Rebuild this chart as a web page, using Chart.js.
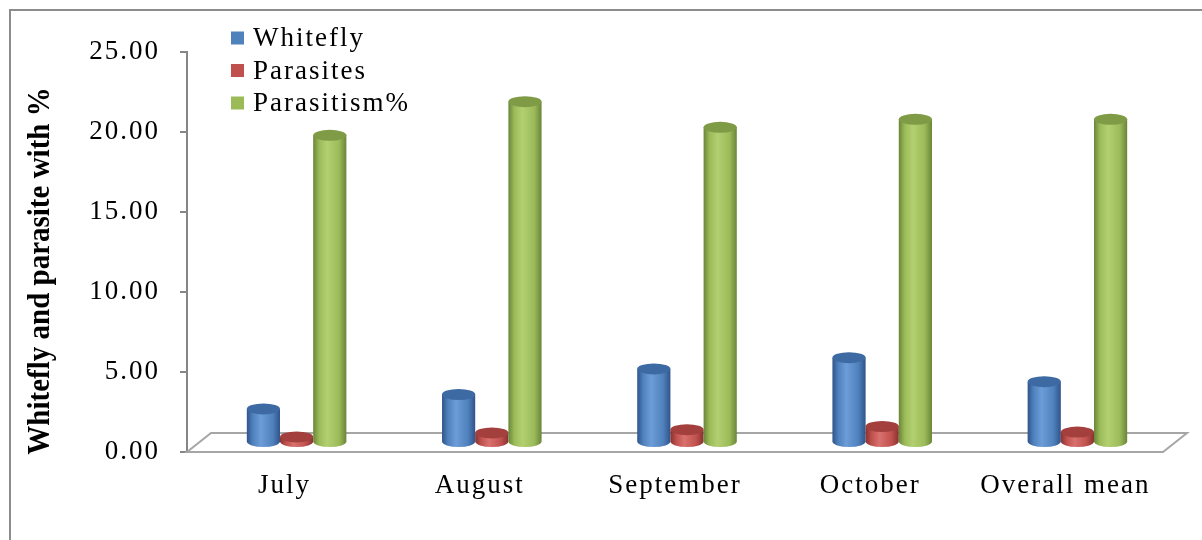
<!DOCTYPE html>
<html>
<head>
<meta charset="utf-8">
<script src="https://cdn.jsdelivr.net/npm/chart.js@4.4.1/dist/chart.umd.min.js"></script>
<style>
  html, body { margin: 0; padding: 0; background: #fff; }
  canvas { display: block; background: #fff; }
</style>
</head>
<body>
<canvas id="chart" width="1202" height="540"></canvas>
<script>
const months = ['July', 'August', 'September', 'October', 'Overall mean'];
const whitefly = [2.1, 3.0, 4.6, 5.3, 3.8];
const parasites = [0.35, 0.6, 0.8, 1.0, 0.65];
const parasitism = [19.2, 21.3, 19.7, 20.2, 20.2];
const seriesNames = ['Whitefly', 'Parasites', 'Parasitism%'];
const yTicks = [0, 5, 10, 15, 20, 25];
const axisTitle = 'Whitefly and parasite with %';

const serif = "'Liberation Serif', 'Times New Roman', serif";
const shades = [
  { base: '#4F81BD', dark: '#30548a', light: '#6c9dd8', top: '#3d6aa2' },
  { base: '#C0504D', dark: '#863230', light: '#d8716e', top: '#a3403d' },
  { base: '#9BBB59', dark: '#6a8538', light: '#b2d070', top: '#7f9b46' }
];
// 3D floor depth
const DX = 24, DY = 19;

function cylinder(ctx, cx, top, bottom, rx, ry, c) {
  const g = ctx.createLinearGradient(cx - rx, 0, cx + rx, 0);
  g.addColorStop(0, c.dark);
  g.addColorStop(0.18, c.base);
  g.addColorStop(0.42, c.light);
  g.addColorStop(0.78, c.base);
  g.addColorStop(1, c.dark);
  ctx.fillStyle = g;
  ctx.beginPath();
  ctx.moveTo(cx - rx, top);
  ctx.lineTo(cx - rx, bottom);
  ctx.ellipse(cx, bottom, rx, ry, 0, Math.PI, 0, true);
  ctx.lineTo(cx + rx, top);
  ctx.closePath();
  ctx.fill();
  ctx.beginPath();
  ctx.ellipse(cx, top, rx, ry, 0, 0, Math.PI * 2);
  ctx.fillStyle = c.top;
  ctx.fill();
}

const chart3d = {
  id: 'chart3d',
  beforeDraw(chart) {
    const ctx = chart.ctx;
    ctx.save();
    ctx.strokeStyle = '#8c8c8c';
    ctx.lineWidth = 2;
    ctx.strokeRect(10, 10, 1260, 600);
    ctx.restore();
    ctx.letterSpacing = '2px';
  },
  beforeDatasetsDraw(chart) {
    const { ctx, chartArea: a } = chart;
    ctx.save();
    ctx.strokeStyle = '#a6a6a6';
    ctx.lineWidth = 2;
    ctx.beginPath();
    ctx.moveTo(a.left, a.bottom);
    ctx.lineTo(a.right, a.bottom);
    ctx.lineTo(a.right + DX, a.bottom - DY);
    ctx.lineTo(a.left + DX, a.bottom - DY);
    ctx.closePath();
    ctx.stroke();
    ctx.restore();
  },
  afterDatasetsDraw(chart) {
    const ctx = chart.ctx;
    ctx.save();
    chart.data.labels.forEach((_, i) => {
      chart.data.datasets.forEach((ds, d) => {
        const el = chart.getDatasetMeta(d).data[i];
        cylinder(ctx, el.x + DX / 2, el.y - DY / 2, el.base - DY / 2,
          el.width / 2, 5.5, shades[d]);
      });
    });
    ctx.restore();
  },
  afterDraw(chart) {
    const ctx = chart.ctx;
    ctx.save();
    // legend
    ctx.font = '27px ' + serif;
    ctx.textBaseline = 'middle';
    ctx.letterSpacing = '2px';
    chart.data.datasets.forEach((ds, d) => {
      const y = 38 + d * 32.5;
      ctx.fillStyle = shades[d].base;
      ctx.fillRect(231, y - 6.5, 13, 13);
      ctx.fillStyle = '#000';
      ctx.fillText(ds.label, 253, y + 1);
    });
    // axis title
    ctx.letterSpacing = '0px';
    ctx.translate(41, 271);
    ctx.rotate(-Math.PI / 2);
    ctx.scale(1, 1.12);
    ctx.font = 'bold 29px ' + serif;
    ctx.textAlign = 'center';
    ctx.fillText(axisTitle, 0, 0);
    ctx.restore();
  }
};

new Chart(document.getElementById('chart'), {
  type: 'bar',
  data: {
    labels: months,
    datasets: [whitefly, parasites, parasitism].map((vals, d) => ({
      label: seriesNames[d],
      data: vals,
      backgroundColor: 'rgba(0,0,0,0)',
      borderWidth: 0,
      categoryPercentage: 0.51,
      barPercentage: 1.0
    }))
  },
  options: {
    responsive: false,
    animation: false,
    layout: { padding: { top: 52, left: 10, right: 39, bottom: 0 } },
    plugins: { legend: { display: false }, tooltip: { enabled: false } },
    scales: {
      x: {
        grid: { display: false, drawTicks: false },
        border: { display: false },
        ticks: { font: { family: serif, size: 27 }, color: '#000', padding: 18, maxRotation: 0 },
        afterFit: s => { s.height = 88; }
      },
      y: {
        min: 0,
        max: 25,
        afterBuildTicks: s => { s.ticks = yTicks.map(v => ({ value: v })); },
        ticks: { font: { family: serif, size: 27 }, color: '#000', padding: 20,
          callback: v => v.toFixed(2) },
        grid: { drawOnChartArea: false, tickLength: 7, color: '#868686', lineWidth: 2 },
        border: { color: '#868686', width: 2 },
        afterFit: s => { s.width = 177; }
      }
    }
  },
  plugins: [chart3d]
});
</script>
</body>
</html>
